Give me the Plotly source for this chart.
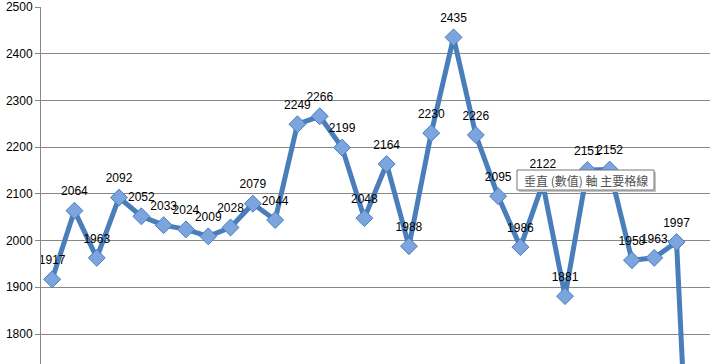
import plotly.graph_objects as go

categories = list(range(1, 31))
values = [1917, 2064, 1963, 2092, 2052, 2033, 2024, 2009, 2028, 2079,
          2044, 2249, 2266, 2199, 2048, 2164, 1988, 2230, 2435, 2226,
          2095, 1986, 2122, 1881, 2151, 2152, 1958, 1963, 1997, 1000]
tick_vals = [1700, 1800, 1900, 2000, 2100, 2200, 2300, 2400, 2500]
y_range = [1735.8, 2500]
tooltip_text = "垂直 (數值) 軸 主要格線"

# data labels (the last one lies below the visible area, as in the reference)
labels = [str(v) if v >= y_range[0] else "" for v in values]

fig = go.Figure()
fig.add_trace(go.Scatter(
    x=categories, y=values, mode="lines+markers",
    line=dict(color="#4A7EBB", width=5),
    marker=dict(symbol="diamond", size=13, color="#7CA5DF",
                line=dict(color="#4A7EBB", width=1)),
    cliponaxis=True, hoverinfo="skip",
))
fig.add_trace(go.Scatter(
    x=categories, y=values, mode="markers+text",
    text=labels, textposition="top center",
    textfont=dict(family="Liberation Sans", size=12, color="#000000"),
    marker=dict(size=18, opacity=0),
    cliponaxis=True, hoverinfo="skip",
))

L, R, T, B = 41, 10, 7, 0
W, H = 720, 364
pw, ph = W - L - R, H - T - B

def px(x):
    return (x - L) / pw

def py(y):
    return (H - B - y) / ph

fig.update_layout(
    width=W, height=H,
    margin=dict(l=L, r=R, t=T, b=B),
    paper_bgcolor="white", plot_bgcolor="white",
    showlegend=False,
    xaxis=dict(range=[0.5, 30.5], showgrid=False, zeroline=False,
               showline=False, showticklabels=False, ticks=""),
    yaxis=dict(range=y_range, tickvals=tick_vals,
               showgrid=True, gridcolor="#878787", gridwidth=1,
               zeroline=False, showline=True, linecolor="#878787", linewidth=1,
               ticks="outside", ticklen=5, tickcolor="#878787",
               tickfont=dict(family="Liberation Sans", size=12, color="#000000")),
    shapes=[
        dict(type="rect", xref="paper", yref="paper",
             x0=px(519), x1=px(656), y0=py(192), y1=py(172),
             fillcolor="#C4C4C4", line=dict(width=0), layer="above"),
        dict(type="rect", xref="paper", yref="paper",
             x0=px(517), x1=px(654), y0=py(190), y1=py(170),
             fillcolor="white", line=dict(color="#767676", width=1), layer="above"),
    ],
    annotations=[
        dict(text=tooltip_text, xref="paper", yref="paper",
             x=px(585.5), y=py(180), xanchor="center", yanchor="middle",
             showarrow=False,
             font=dict(family="Noto Sans CJK TC", size=12, color="#505050")),
    ],
)

fig.write_html("out.html")
